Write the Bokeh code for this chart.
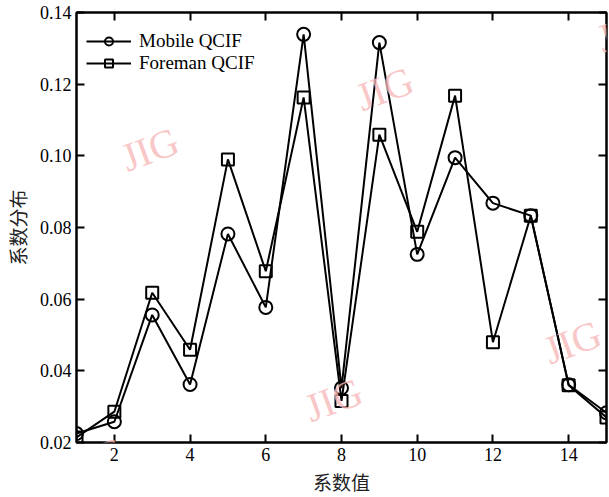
from bokeh.plotting import figure
from bokeh.models import LinearAxis, Range1d, FixedTicker, Legend, LegendItem, Label, CustomJSTickFormatter
from bokeh.embed import file_html
from bokeh.resources import INLINE

coef = list(range(1, 16))
mobile = [0.0225, 0.0258, 0.0556, 0.0362, 0.0782, 0.0577, 0.1339, 0.0352,
          0.1316, 0.0725, 0.0995, 0.0868, 0.0833, 0.0361, 0.0283]
foreman = [0.0214, 0.0286, 0.0618, 0.0459, 0.0990, 0.0678, 0.1163, 0.0316,
           0.1059, 0.0788, 0.1168, 0.0480, 0.0833, 0.0360, 0.0270]
x_ticks = [2, 4, 6, 8, 10, 12, 14]
y_ticks = [0.02, 0.04, 0.06, 0.08, 0.10, 0.12, 0.14]
series_names = ["Mobile QCIF", "Foreman QCIF"]
x_title = "系数值"
y_title = "系数分布"
wm_text = "JIG"
wm_x = [2.94, 9.14, 15.50, 1.50, 7.79, 14.10]
wm_y = [0.1018, 0.1187, 0.1350, 0.0153, 0.0319, 0.0480]

SERIF = "Liberation Serif"
CJK = "Noto Sans CJK SC"

p = figure(width=609, height=497, output_backend="svg", toolbar_location=None,
           x_range=Range1d(1, 15), y_range=Range1d(0.02, 0.14),
           min_border_left=75, min_border_right=3, min_border_top=12,
           min_border_bottom=52, x_axis_location=None, y_axis_location=None)
p.grid.visible = False
p.outline_line_color = "black"
p.outline_line_width = 2
p.background_fill_color = "white"
p.border_fill_color = "white"

def style_axis(ax, labels=True):
    ax.axis_line_width = 2
    ax.major_tick_line_width = 2
    ax.major_tick_in = 8
    ax.major_tick_out = 0
    ax.minor_tick_in = 0
    ax.minor_tick_out = 0
    if labels:
        ax.major_label_text_font = SERIF
        ax.major_label_text_font_size = "18px"
        ax.major_label_text_color = "black"
        ax.major_label_standoff = 5
        ax.axis_label_text_font = CJK
        ax.axis_label_text_font_size = "19px"
        ax.axis_label_text_font_style = "normal"
        ax.axis_label_text_color = "#222222"
    else:
        ax.major_label_text_font_size = "1px"
        ax.major_label_text_color = None
        ax.major_label_standoff = 0

bx = LinearAxis(ticker=FixedTicker(ticks=x_ticks), axis_label=x_title)
style_axis(bx)
bx.axis_label_standoff = 4
p.add_layout(bx, "below")

ly = LinearAxis(ticker=FixedTicker(ticks=y_ticks), axis_label=y_title,
                formatter=CustomJSTickFormatter(code="return tick.toFixed(2);"))
style_axis(ly)
ly.axis_label_standoff = 6
p.add_layout(ly, "left")

tx = LinearAxis(ticker=FixedTicker(ticks=x_ticks))
style_axis(tx, labels=False)
p.add_layout(tx, "above")

ry = LinearAxis(ticker=FixedTicker(ticks=y_ticks))
style_axis(ry, labels=False)
p.add_layout(ry, "right")

l1 = p.line(coef, mobile, line_color="black", line_width=2)
m1 = p.scatter(coef, mobile, marker="circle", size=13, fill_color=None,
               line_color="black", line_width=2)
l2 = p.line(coef, foreman, line_color="black", line_width=2)
m2 = p.scatter(coef, foreman, marker="square", size=12, fill_color=None,
               line_color="black", line_width=2)

legend = Legend(items=[LegendItem(label=series_names[0], renderers=[l1, m1]),
                       LegendItem(label=series_names[1], renderers=[l2, m2])],
                location=(10, 368))
legend.border_line_color = None
legend.background_fill_alpha = 0
legend.padding = 4
legend.spacing = 0
legend.margin = 0
legend.glyph_width = 45
legend.glyph_height = 20
legend.label_height = 20
legend.label_standoff = 8
legend.label_text_font = SERIF
legend.label_text_font_size = "19px"
legend.label_text_color = "black"
p.add_layout(legend)

for wx, wy in zip(wm_x, wm_y):
    p.add_layout(Label(x=wx, y=wy, text=wm_text, text_font=SERIF,
                       text_font_size="40px", text_color="#f7b8b8",
                       text_alpha=0.8, angle=0.35, text_align="center",
                       text_baseline="middle"))

open("out.html", "w").write(file_html(p, INLINE))
